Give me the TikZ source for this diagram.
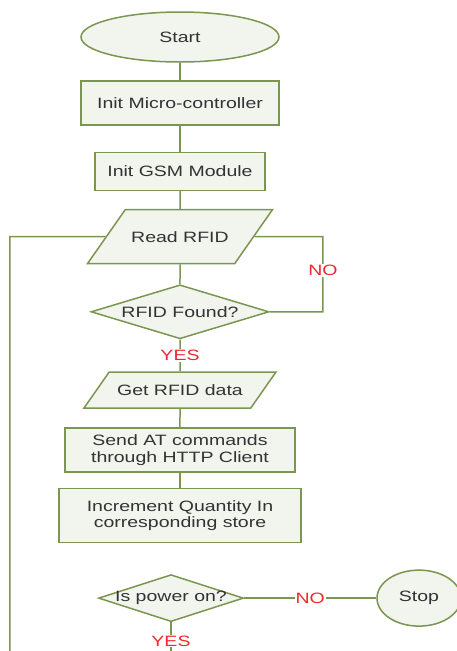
\documentclass[tikz,border=0pt]{standalone}
\usepackage{fontspec}
\newfontfamily\chartfont[FakeStretch=1.3]{Liberation Sans}
\usepackage{tikz}
\usetikzlibrary{positioning, shapes.geometric}
\usepackage{xcolor}
\definecolor{chartline}{HTML}{7B9650}
\definecolor{chartfill}{HTML}{F2F4EE}
\definecolor{chartred}{HTML}{F0282D}
\tikzstyle{Base} = [
draw=chartline, fill=chartfill, line width=1.5pt,
font=\chartfont\fontsize{15}{16.5}\selectfont, text=black!80,
inner sep=2pt]
\tikzstyle{Terminal} = [Base, ellipse]
\tikzstyle{Process} = [Base, rectangle, align=center]
\tikzstyle{Data} = [Base, trapezium, trapezium left angle=55,
trapezium right angle=125, trapezium stretches body=true,
text height=11pt, text depth=0pt]
\tikzstyle{Decision} = [Base, diamond, aspect=3.2, inner sep=0pt]
\tikzstyle{Line} = [draw=chartline, line width=1.5pt]
\tikzstyle{Answer} = [fill=white, text=chartred, inner sep=1pt,
font=\chartfont\fontsize{15}{16.5}\selectfont]

\begin{document}
\begin{tikzpicture}[x=1pt, y=-1pt]
    \useasboundingbox (0,0) rectangle (457,651);
    \node [Terminal, minimum width=198pt, minimum height=50pt] (start) at (180,37) {Start};
    \node [Process, minimum width=198pt, minimum height=44pt, below=17.7pt of start] (micro) {Init Micro-controller};
    \node [Process, minimum width=170pt, minimum height=38pt, below=25.7pt of micro] (gsm) {Init GSM Module};
    \node [Data, minimum width=185pt, inner ysep=21.5pt, below=17.7pt of gsm] (read) {Read RFID};
    \node [Decision, minimum width=178pt, minimum height=54pt, below=19.7pt of read] (found) {RFID Found?};
    \node [Data, minimum width=192pt, inner ysep=12.5pt, below=31.7pt of found] (get) {Get RFID data};
    \node [Process, minimum width=230pt, minimum height=44pt, below=18.7pt of get] (send) {Send AT commands\\through HTTP Client};
    \node [Process, minimum width=242pt, minimum height=54pt, below=14.7pt of send] (inc) {Increment Quantity In\\corresponding store};
    \node [Decision, minimum width=145pt, minimum height=47pt, below=30.7pt of inc, xshift=-9pt] (power) {\makebox[0pt]{Is power on?}};
    \node [Terminal, minimum width=84pt, minimum height=56pt, right=132pt of power] (stop) {Stop};

    \coordinate [right=143pt of read.center] (loopright);
    \coordinate [left=170pt of read.center] (loopleft);
    \coordinate (bottom) at (0,656);

    \draw[Line] (start) -- (micro);
    \draw[Line] (micro) -- (gsm);
    \draw[Line] (gsm) -- (read);
    \draw[Line] (read) -- (found);
    \draw[Line] (found) -- node[Answer] {YES} (get);
    \draw[Line] (get) -- (send);
    \draw[Line] (send) -- (inc);
    %\draw[Line] (inc) -- (power);
    \draw[Line] (read) -- (loopright) -- node[Answer, pos=0.45] {NO} (loopright |- found.east) -- (found.east);
    \draw[Line] (read) -- (loopleft) -- (loopleft |- bottom);
    \draw[Line] (power) -- node[Answer] {NO} (stop);
    \draw[Line] (power) -- node[Answer, pos=0.55] {YES} (power |- bottom);
\end{tikzpicture}
\end{document}
